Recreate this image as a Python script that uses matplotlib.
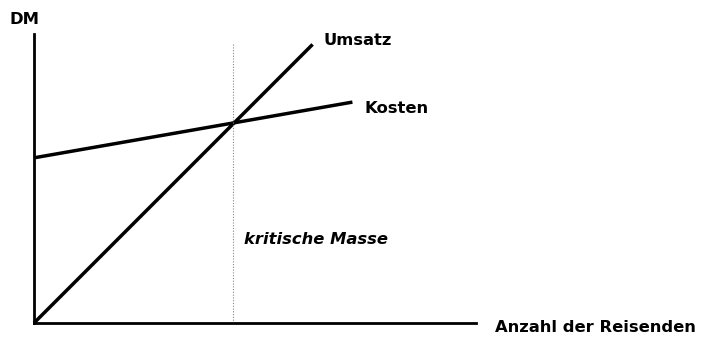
import matplotlib
matplotlib.use("Agg")
import matplotlib.pyplot as plt

# data (arbitrary units)
umsatz_x = [0, 14]
umsatz_y = [0, 14]
kosten_x = [0, 16]
kosten_y = [8.3, 11.1]
critical_x = 10
critical_top = 14
x_axis_end = 22.2
y_axis_end = 14.5

labels = {
    "umsatz": "Umsatz",
    "kosten": "Kosten",
    "crit": "kritische Masse",
    "xlabel": "Anzahl der Reisenden",
    "ylabel": "DM",
}

fig = plt.figure(figsize=(7.06, 3.38), dpi=100)
ax = fig.add_axes([0, 0, 1, 1])
scale = 19.9
ax.set_xlim(-34 / scale, (706 - 34) / scale)
ax.set_ylim((323 - 338) / scale, 323 / scale)

for s in ["top", "right"]:
    ax.spines[s].set_visible(False)
ax.spines["left"].set_position(("data", 0))
ax.spines["bottom"].set_position(("data", 0))
ax.spines["left"].set_bounds(0, y_axis_end)
ax.spines["bottom"].set_bounds(0, x_axis_end)
ax.spines["left"].set_linewidth(2.0)
ax.spines["bottom"].set_linewidth(2.0)
ax.set_xticks([])
ax.set_yticks([])
ax.patch.set_visible(False)

lw = 2.5
ax.plot(umsatz_x, umsatz_y, color="black", lw=lw, solid_capstyle="butt")
ax.plot(kosten_x, kosten_y, color="black", lw=lw, solid_capstyle="butt")
ax.plot([critical_x, critical_x], [0, critical_top], color="#888888", lw=0.8, ls=(0, (1, 1.5)))

font = dict(family="DejaVu Sans", fontweight="bold", fontsize=11.8)
ax.text(umsatz_x[1] + 0.55, umsatz_y[1] + 0.2, labels["umsatz"], ha="left", va="center", **font)
ax.text(kosten_x[1] + 0.6, kosten_y[1] - 0.3, labels["kosten"], ha="left", va="center", **font)
ax.text(critical_x + 0.55, 4.2, labels["crit"], ha="left", va="center", style="italic", **font)
ax.text(x_axis_end + 0.95, -0.25, labels["xlabel"], ha="left", va="center", **font)
ax.text(-1.25, y_axis_end + 0.75, labels["ylabel"], ha="left", va="center", **font)

fig.savefig("out.png", dpi=100)
